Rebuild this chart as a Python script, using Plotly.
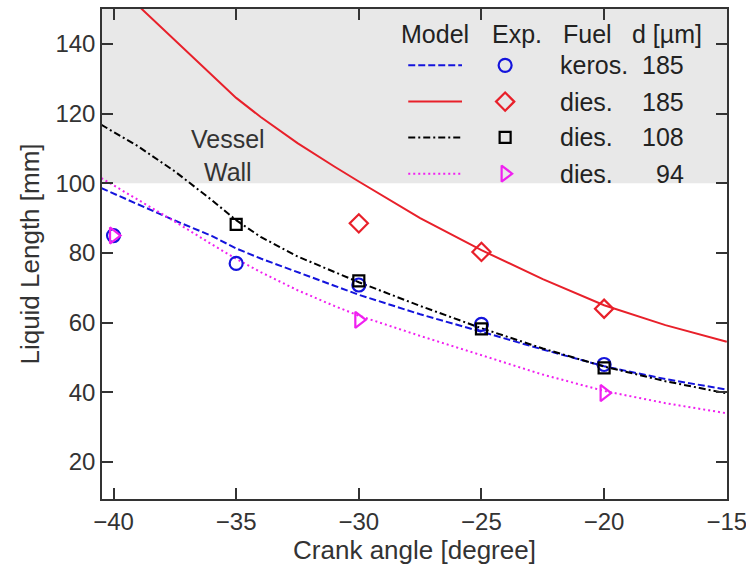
import plotly.graph_objects as go

# model curves
crank_model = [-40.5, -39, -37.5, -36, -35, -34, -32.5, -31, -30, -27.5, -25, -22.5, -20, -17.5, -15]
kero_185_model = [98.6, 93.9, 89.3, 84.9, 81.3, 78.4, 74.4, 70.6, 68, 62.4, 57.4, 52.3, 47.5, 43.8, 40.8]
dies_108_model = [116.8, 110.6, 103.4, 95.2, 89.4, 84.6, 79.0, 74.6, 71.6, 64.8, 58.4, 52.6, 47.4, 43.2, 39.7]
dies_94_model = [101.5, 95.3, 89, 82.5, 78.3, 74.5, 69.3, 64.8, 62, 56.2, 50.6, 45.1, 40.4, 36.9, 34]
dies_185_crank = [-39, -37.5, -36, -35, -34, -32.5, -31, -30, -27.5, -25, -22.5, -20, -17.5, -15]
dies_185_model = [151, 141, 131, 124.5, 119, 111.5, 104.8, 100.5, 90, 80.8, 72.5, 65, 59.3, 54.5]

# experiments
kero_185_x = [-40, -35, -30, -25, -20]
kero_185_y = [85, 77, 70.8, 59.5, 48]
dies_185_x = [-30, -25, -20]
dies_185_y = [88.5, 80.3, 64]
dies_108_x = [-35, -30, -25, -20]
dies_108_y = [88.2, 72, 58.2, 47]
dies_94_x = [-40, -30, -20]
dies_94_y = [85, 60.8, 39.8]

WALL = 100
fuel_names = ["keros.", "dies.", "dies.", "dies."]
nozzle_d = ["185", "185", "108", "94"]
headers = ["Model", "Exp.", "Fuel", "d [µm]"]

colors = ["#1414dc", "#e8202a", "#000000", "#f020f0"]
dashes = ["7px,3px", "solid", "7px,3px,2px,3px", "2px,3px"]
symbols = ["circle-open", "diamond-open", "square-open", "triangle-right-open"]
sizes = [13, 14, 11, 14]

fig = go.Figure()

curves = [(crank_model, kero_185_model), (dies_185_crank, dies_185_model),
          (crank_model, dies_108_model), (crank_model, dies_94_model)]
points = [(kero_185_x, kero_185_y), (dies_185_x, dies_185_y),
          (dies_108_x, dies_108_y), (dies_94_x, dies_94_y)]

for i, (cx, cy) in enumerate(curves):
    fig.add_trace(go.Scatter(x=cx, y=cy, mode="lines",
                             line=dict(color=colors[i], width=2, dash=dashes[i]),
                             showlegend=False, hoverinfo="skip"))
for i, (px, py) in enumerate(points):
    fig.add_trace(go.Scatter(x=px, y=py, mode="markers",
                             marker=dict(symbol=symbols[i], size=sizes[i], color=colors[i],
                                         line=dict(width=2.2, color=colors[i])),
                             showlegend=False, cliponaxis=False))

# hand-made table legend on an overlay axis (0..1 box coords)
row_y = [0.885, 0.811, 0.738, 0.664]
txt_font = dict(family="Arial, Liberation Sans", size=25, color="#222")
for i in range(4):
    fig.add_trace(go.Scatter(x=[0.49, 0.576], y=[row_y[i]] * 2, mode="lines",
                             xaxis="x2", yaxis="y2",
                             line=dict(color=colors[i], width=2, dash=dashes[i]),
                             showlegend=False, hoverinfo="skip"))
    fig.add_trace(go.Scatter(x=[0.645], y=[row_y[i]], mode="markers",
                             xaxis="x2", yaxis="y2",
                             marker=dict(symbol=symbols[i], size=sizes[i], color=colors[i],
                                         line=dict(width=2.2, color=colors[i])),
                             showlegend=False, hoverinfo="skip"))
    fig.add_annotation(xref="paper", yref="paper", x=0.73, y=row_y[i], text=fuel_names[i],
                       showarrow=False, xanchor="left", yanchor="middle", font=txt_font)
    fig.add_annotation(xref="paper", yref="paper", x=0.935, y=row_y[i], text=nozzle_d[i],
                       showarrow=False, xanchor="right", yanchor="middle", font=txt_font)

for hx, h in zip([0.533, 0.664, 0.776, 0.904], headers):
    fig.add_annotation(xref="paper", yref="paper", x=hx, y=0.948, text=h,
                       showarrow=False, xanchor="center", yanchor="middle", font=txt_font)

fig.add_annotation(x=-35.33, y=108, text="Vessel<br>Wall", showarrow=False,
                   font=dict(family="Arial, Liberation Sans", size=25, color="#333"))

fig.add_shape(type="rect", xref="paper", yref="y", x0=0, x1=1, y0=WALL, y1=150,
              fillcolor="#e8e8e8", line_width=0, layer="below")

tick_font = dict(family="Arial, Liberation Sans", size=24, color="#333")
title_font = dict(family="Arial, Liberation Sans", size=26, color="#333")
fig.update_layout(
    width=746, height=572,
    margin=dict(l=102, r=19, t=9, b=73),
    paper_bgcolor="white", plot_bgcolor="white",
    font=dict(family="Arial, Liberation Sans", color="#333"),
    xaxis=dict(range=[-40.47, -14.99], tickvals=[-40, -35, -30, -25, -20, -15],
               ticks="inside", ticklen=11, tickcolor="#333", tickwidth=1.5,
               showline=True, linecolor="#333", linewidth=1.5, mirror="ticks",
               showgrid=False, zeroline=False, tickfont=tick_font, automargin=False,
               ticklabeloverflow="allow",
               title=dict(text="Crank angle [degree]", font=title_font, standoff=4)),
    yaxis=dict(range=[9.4, 150], tickvals=[20, 40, 60, 80, 100, 120, 140],
               ticks="inside", ticklen=11, tickcolor="#333", tickwidth=1.5,
               showline=True, linecolor="#333", linewidth=1.5, mirror="ticks",
               showgrid=False, zeroline=False, tickfont=tick_font, automargin=False,
               title=dict(text="Liquid Length [mm]", font=title_font, standoff=8)),
    xaxis2=dict(range=[0, 1], overlaying="x", visible=False, fixedrange=True),
    yaxis2=dict(range=[0, 1], overlaying="y", visible=False, fixedrange=True),
)

# drop the default body margin so the figure fills the window exactly
fig.write_html("out.html", config={"displayModeBar": False},
               post_script="document.body.style.margin='0';")
